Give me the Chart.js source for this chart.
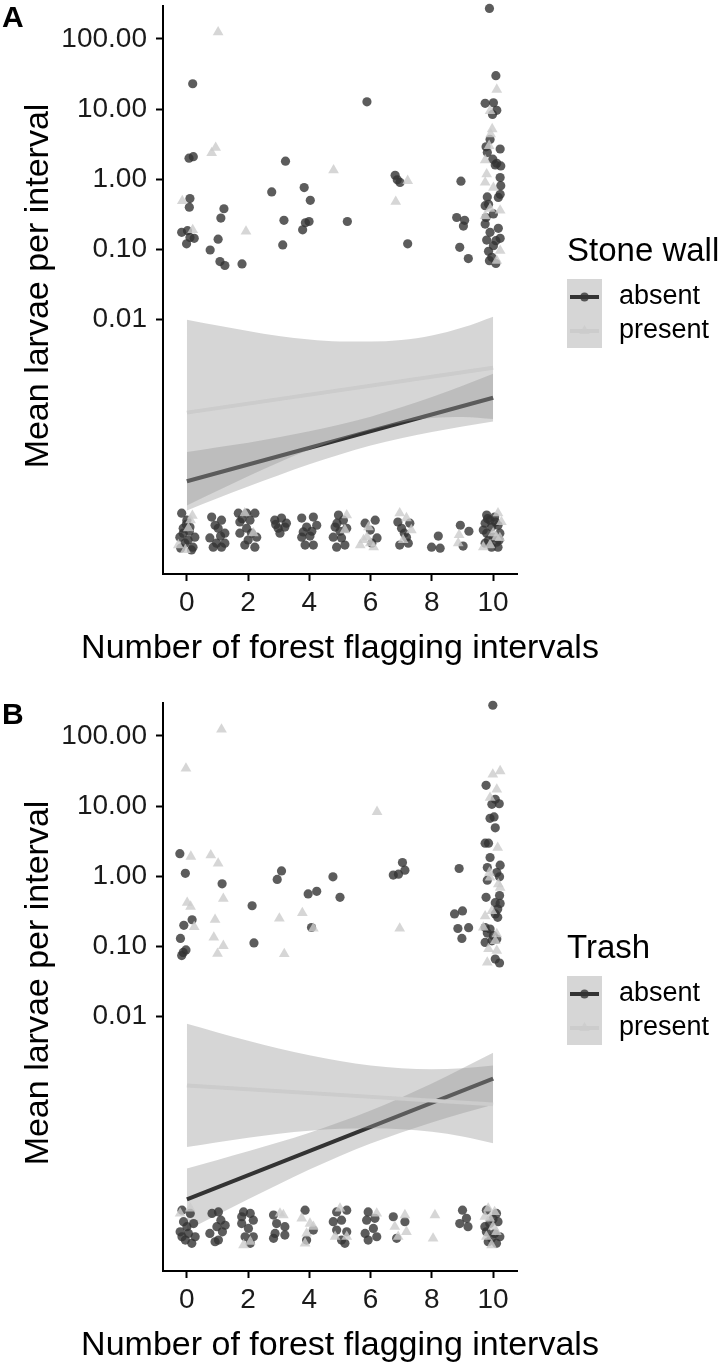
<!DOCTYPE html>
<html>
<head>
<meta charset="utf-8">
<script src="https://cdn.jsdelivr.net/npm/chart.js@4.4.1/dist/chart.umd.min.js"></script>
<style>
  body { margin: 0; background: #fff; }
  .panel { position: absolute; left: 0; }
</style>
</head>
<body>
<div class="panel" style="top:0"><canvas id="chartA" width="724" height="697"></canvas></div>
<div class="panel" style="top:697px"><canvas id="chartB" width="724" height="670"></canvas></div>
<script>
// ---- data ----
const groups = ['absent', 'present'];
const xTicks = [0, 2, 4, 6, 8, 10];
const yTicks = [0.01, 0.1, 1, 10, 100];
const fitX = [0, 1, 2, 3, 4, 5, 6, 7, 8, 9, 10];
const lineX = [0, 10];

// panel A: stone wall
const aAbsentPts = [[0.19,23],[0.07,2.0],[0.21,2.1],[0.10,0.53],[0.08,0.40],[-0.17,0.175],[0.02,0.185],[-0.01,0.12],[0.10,0.148],[0.24,0.144],
  [0.76,0.098],[1.02,0.14],[1.11,0.28],[1.21,0.38],[1.08,0.067],[1.24,0.059],[1.80,0.062],[2.77,0.66],[3.22,1.81],[3.17,0.26],[3.13,0.116],
  [3.83,0.76],[4.03,0.50],[3.87,0.24],[3.99,0.25],[3.78,0.19],[5.24,0.25],[5.88,12.7],[6.80,1.14],[6.87,0.98],[6.96,0.90],[7.21,0.12],
  [8.95,0.94],[8.81,0.285],[9.07,0.26],[9.03,0.215],[8.91,0.107],[9.19,0.074],
  [9.88,272],[10.09,30],[9.74,12.1],[10.01,12.3],[10.12,9.6],[9.98,8.4],[9.90,3.7],[9.77,2.9],[10.23,2.7],[9.81,2.4],
  [9.99,1.93],[10.12,1.69],[10.25,1.55],[10.07,1.6],[10.23,1.06],[10.25,0.81],[10.23,0.61],[10.17,0.55],[9.81,0.56],[9.74,0.42],
  [9.85,0.44],[10.01,0.32],[9.77,0.285],[9.74,0.23],[10.17,0.20],[9.90,0.175],[10.23,0.144],[9.79,0.136],[10.09,0.133],[10.01,0.113],
  [9.85,0.094],[9.96,0.077],[9.88,0.069],[10.09,0.063],
  // zero counts, jittered
  [-0.17,1.74e-5],[0.0,1.38e-5],[-0.12,1.06e-5],[0.1,1.1e-5],[-0.23,7.9e-6],[-0.06,6.5e-6],[0.2,5.7e-6],[0.04,7.2e-6],[0.26,7.9e-6],[-0.12,9.0e-6],[0.15,5.2e-6],[-0.2,5.5e-6],[0.08,9.6e-6],[-0.02,1.2e-5],
  [0.81,1.53e-5],[1.13,1.38e-5],[1.02,1.06e-5],[1.24,9.0e-6],[0.75,7.7e-6],[0.97,6.5e-6],[1.13,5.7e-6],[1.24,6.5e-6],[0.86,5.7e-6],[0.92,1.17e-5],[1.1,8.2e-6],
  [1.68,1.74e-5],[1.95,1.74e-5],[2.22,1.74e-5],[1.73,1.3e-5],[2.06,1.38e-5],[1.95,1.06e-5],[1.73,9.0e-6],[2.11,9.0e-6],[2.28,7.9e-6],[1.89,6.1e-6],[2.22,5.7e-6],[2.0,7.2e-6],[1.8,1.45e-5],
  [2.87,1.38e-5],[3.09,1.48e-5],[3.25,1.25e-5],[2.98,1.06e-5],[3.2,1.1e-5],[3.04,9.0e-6],[2.9,1.2e-5],
  [3.75,1.48e-5],[4.13,1.53e-5],[3.91,1.1e-5],[4.24,1.17e-5],[3.75,7.9e-6],[4.02,8.2e-6],[3.86,6.1e-6],[4.13,6.1e-6],[4.08,9.6e-6],[3.8,9.4e-6],
  [4.95,1.63e-5],[5.11,1.38e-5],[4.84,1.1e-5],[5.22,1.06e-5],[4.78,7.9e-6],[5.05,7.7e-6],[4.89,5.7e-6],[5.16,6.1e-6],[5.0,9.6e-6],[4.9,1.25e-5],
  [5.82,1.25e-5],[6.15,1.38e-5],[5.99,9.98e-6],[6.21,7.7e-6],[6.04,6.5e-6],
  [6.89,1.3e-5],[7.28,1.25e-5],[7.01,1.06e-5],[7.17,7.9e-6],[6.95,6.1e-6],[7.23,6.5e-6],[7.1,9.0e-6],
  [7.99,5.7e-6],[8.21,8.2e-6],[8.27,5.5e-6],
  [8.93,1.17e-5],[9.21,9.6e-6],[9.02,5.9e-6],
  [9.79,1.63e-5],[10.05,1.53e-5],[9.74,1.25e-5],[9.95,1.1e-5],[10.16,1.17e-5],[9.79,9.0e-6],[10.0,7.9e-6],[10.22,9.0e-6],[9.74,6.5e-6],
  [9.95,5.7e-6],[10.16,5.7e-6],[9.85,7.2e-6],[10.11,6.7e-6],[9.9,1.38e-5],[9.68,9.98e-6],[10.08,1.3e-5],[9.82,1.45e-5],[10.2,7.2e-6]];
const aPresentPts = [[1.02,125],[-0.15,0.49],[0.81,2.37],[0.94,2.82],[0.19,0.19],[1.93,0.18],[4.79,1.35],[6.82,0.48],[7.21,0.95],
  [10.12,19],[9.90,9.4],[9.97,5.2],[9.92,4.4],[9.87,3.0],[9.74,1.87],[9.79,1.18],[9.74,0.90],[10.01,0.76],[10.23,0.36],[9.90,0.38],
  [9.74,0.30],[10.23,0.096],[10.12,0.069],
  [0.12,1.38e-5],[0.05,1.06e-5],[-0.28,6.1e-6],[-0.05,5.2e-6],[0.18,1.6e-5],[1.89,1.74e-5],[2.17,9.0e-6],[5.22,1.63e-5],[5.16,9.98e-6],
  [5.93,1.1e-5],[5.77,7.2e-6],[5.88,7.9e-6],[6.1,5.7e-6],[5.66,6.1e-6],[5.99,6.5e-6],[6.95,1.74e-5],[7.17,1.48e-5],[7.33,9.98e-6],[7.06,7.2e-6],
  [8.89,8.5e-6],[8.86,6.5e-6],[10.16,1.74e-5],[10.27,1.3e-5],[10.0,9.0e-6],[10.22,7.7e-6],[9.68,5.7e-6],[10.11,7.9e-6],[9.9,6.1e-6]];
const aAbsentFit = [4.96e-5, 7.69e-4];
const aAbsentHi = [1.29e-4, 1.51e-4, 1.76e-4, 2.10e-4, 2.55e-4, 3.19e-4, 4.13e-4, 5.62e-4, 7.87e-4, 1.14e-3, 1.69e-3];
const aAbsentLo = [1.90e-5, 2.83e-5, 4.17e-5, 6.05e-5, 8.65e-5, 1.19e-4, 1.60e-4, 2.04e-4, 2.50e-4, 2.99e-4, 3.51e-4];
const aPresentFit = [4.71e-4, 2.06e-3];
const aPresentHi = [9.9e-3, 8.2e-3, 6.86e-3, 5.82e-3, 5.20e-3, 4.86e-3, 4.86e-3, 5.11e-3, 5.92e-3, 7.69e-3, 1.10e-2];
const aPresentLo = [2.24e-5, 3.62e-5, 5.82e-5, 9.20e-5, 1.39e-4, 1.99e-4, 2.67e-4, 3.41e-4, 3.95e-4, 4.09e-4, 3.83e-4];

// panel B: trash
const bAbsentPts = [[-0.23,2.1],[-0.05,1.1],[1.15,0.78],[0.17,0.24],[-0.10,0.20],[-0.21,0.13],[-0.03,0.089],[-0.17,0.074],[-0.12,0.082],
  [2.13,0.38],[2.19,0.112],[3.09,1.19],[2.95,0.90],[3.96,0.56],[4.24,0.61],[4.07,0.186],[4.77,0.98],[5.0,0.50],[6.74,1.04],[6.91,1.07],
  [7.04,1.57],[7.12,1.22],[8.89,1.29],[8.74,0.29],[9.0,0.32],[8.85,0.18],[9.2,0.185],[8.98,0.13],
  [9.99,274],[9.77,19.8],[10.07,12.5],[9.96,10.6],[10.20,10.8],[9.90,6.7],[10.03,7.0],[10.07,4.9],[9.74,2.96],[9.85,2.96],
  [9.90,1.85],[9.81,1.33],[10.23,1.44],[10.12,1.13],[10.21,0.98],[9.81,0.88],[9.77,0.50],[10.21,0.53],[10.07,0.42],[10.23,0.41],
  [10.15,0.34],[10.07,0.29],[10.15,0.26],[9.74,0.186],[9.90,0.177],[9.81,0.155],[10.01,0.142],[10.12,0.127],[9.74,0.114],[9.96,0.120],
  [10.07,0.066],[10.21,0.058],
  [-0.16,1.74e-5],[0.11,1.56e-5],[-0.11,1.19e-5],[0.22,1.12e-5],[-0.22,8.55e-6],[0.05,8.11e-6],[0.27,7.26e-6],[-0.05,6.51e-6],[0.16,5.85e-6],[-0.16,7.26e-6],[0,1.01e-5],
  [0.82,1.56e-5],[1.03,1.64e-5],[1.11,1.25e-5],[0.75,8.11e-6],[0.98,1.01e-5],[1.16,8.55e-6],[1.03,6.51e-6],[0.92,6.16e-6],[1.25,1.06e-5],
  [1.85,1.64e-5],[2.07,1.56e-5],[2.17,1.25e-5],[1.79,1.12e-5],[2.01,9.55e-6],[1.9,7.26e-6],[2.17,7.26e-6],[2.07,5.85e-6],[1.79,1.40e-5],
  [2.83,1.48e-5],[2.93,1.12e-5],[2.88,8.11e-6],[3.2,1.01e-5],[3.2,7.67e-6],[2.83,6.89e-6],
  [3.86,1.74e-5],[4.13,9.04e-6],[3.91,6.51e-6],
  [4.89,1.64e-5],[5.22,1.74e-5],[4.78,1.19e-5],[5.05,1.25e-5],[4.89,9.04e-6],[5.22,8.55e-6],[5.05,6.51e-6],[5.16,5.85e-6],
  [5.92,1.64e-5],[5.87,1.25e-5],[6.14,1.33e-5],[5.82,8.11e-6],[6.09,9.55e-6],[6.2,7.26e-6],[5.92,6.51e-6],
  [6.74,1.40e-5],[7.12,1.19e-5],[6.85,6.89e-6],
  [9.0,1.74e-5],[9.13,1.33e-5],[9.18,1.01e-5],[8.91,1.12e-5],
  [9.78,1.74e-5],[10.11,1.56e-5],[9.89,1.12e-5],[10.16,1.19e-5],[9.78,8.55e-6],[10.05,8.11e-6],[10.22,7.26e-6],[9.84,6.16e-6],[10.11,5.85e-6],
  [9.95,6.89e-6],[9.73,1.01e-5],[10.0,1.3e-5]];
const bPresentPts = [[1.13,124],[-0.03,34.5],[0.13,1.91],[0.78,2.0],[1.02,1.52],[0.01,0.42],[0.12,0.37],[1.19,0.48],[0.92,0.24],[0.88,0.134],
  [1.19,0.102],[1.0,0.079],[0.24,0.19],[3.02,0.25],[3.77,0.30],[3.18,0.078],[4.13,0.18],[6.21,8.3],[6.95,0.18],
  [9.99,28.3],[10.23,31.6],[10.12,17.3],[9.90,13.2],[10.15,2.56],[9.88,1.13],[9.90,0.96],[10.17,0.77],[10.23,0.69],[9.74,0.27],
  [9.96,0.32],[10.12,0.15],[9.85,0.092],[10.12,0.087],[9.81,0.059],[9.68,0.186],[10.07,0.12],
  [-0.22,1.56e-5],[0.11,1.84e-5],[1.85,5.53e-6],[2.07,6.16e-6],[3.15,1.48e-5],[3.04,1.56e-5],
  [3.75,1.33e-5],[4.02,1.12e-5],[3.91,8.11e-6],[3.86,5.85e-6],[4.13,1.01e-5],[5.0,1.84e-5],[4.84,7.26e-6],[5.22,7.26e-6],[6.2,1.56e-5],
  [7.12,1.48e-5],[6.79,1.01e-5],[7.17,8.55e-6],[6.9,7.26e-6],[8.1,1.48e-5],[8.04,6.89e-6],
  [9.84,1.84e-5],[10.05,1.64e-5],[9.89,1.33e-5],[10.0,1.01e-5],[9.78,7.26e-6],[10.11,8.55e-6],[9.95,5.53e-6],[9.73,1.40e-5]];
const bAbsentFit = [2.47e-5, 1.30e-3];
const bAbsentHi = [6.82e-5, 9.03e-5, 1.20e-4, 1.61e-4, 2.21e-4, 3.13e-4, 4.57e-4, 7.02e-4, 1.11e-3, 1.83e-3, 3.05e-3];
const bAbsentLo = [8.95e-6, 1.49e-5, 2.48e-5, 4.07e-5, 6.58e-5, 1.03e-4, 1.55e-4, 2.23e-4, 3.10e-4, 4.19e-4, 5.55e-4];
const bPresentFit = [1.04e-3, 5.60e-4];
const bPresentHi = [7.87e-3, 5.94e-3, 4.51e-3, 3.51e-3, 2.81e-3, 2.33e-3, 2.01e-3, 1.84e-3, 1.77e-3, 1.83e-3, 2.01e-3];
const bPresentLo = [1.38e-4, 1.62e-4, 1.88e-4, 2.14e-4, 2.36e-4, 2.51e-4, 2.56e-4, 2.48e-4, 2.28e-4, 1.95e-4, 1.56e-4];

// ---- styling ----
const FONT = "'Liberation Sans', Arial, Helvetica, sans-serif";
const darkPt = 'rgba(51,51,51,0.8)';
const lightPt = 'rgba(204,204,204,0.8)';
const ribbon = 'rgba(153,153,153,0.4)';
Chart.defaults.font.family = FONT;

const toXY = (xs, ys) => xs.map((x, i) => ({ x: x, y: ys[i] }));
const pts = arr => arr.map(p => ({ x: p[0], y: p[1] }));

function band(lo, hi, order) {
  return [
    { data: toXY(fitX, hi), fill: '+1', backgroundColor: ribbon, borderColor: 'rgba(0,0,0,0)',
      borderWidth: 1, pointRadius: 0, cubicInterpolationMode: 'monotone', order: order },
    { data: toXY(fitX, lo), fill: false, borderColor: 'rgba(0,0,0,0)',
      borderWidth: 1, pointRadius: 0, cubicInterpolationMode: 'monotone', order: order }
  ];
}

const decor = {
  id: 'decor',
  afterDraw(chart, args, o) {
    const ctx = chart.ctx;
    ctx.save();
    ctx.fillStyle = '#000';
    // panel letter
    ctx.font = 'bold 30px ' + FONT;
    ctx.textAlign = 'left';
    ctx.textBaseline = 'alphabetic';
    ctx.fillText(o.letter, 2, 27);
    // axis titles
    ctx.font = '34px ' + FONT;
    ctx.textAlign = 'center';
    ctx.textBaseline = 'middle';
    ctx.fillText('Number of forest flagging intervals', 340, 649);
    ctx.save();
    ctx.translate(39, 286);
    ctx.rotate(-Math.PI / 2);
    ctx.fillText('Mean larvae per interval', 0, 0);
    ctx.restore();
    // legend
    ctx.textAlign = 'left';
    ctx.textBaseline = 'alphabetic';
    ctx.font = '33px ' + FONT;
    ctx.fillText(o.title, 567, 261);
    ctx.fillStyle = ribbon;
    ctx.fillRect(567, 279, 35, 69);
    const keys = [[297, '#333333', darkPt, 'circle'], [331, '#cccccc', lightPt, 'triangle']];
    keys.forEach(k => {
      ctx.strokeStyle = k[1];
      ctx.lineWidth = 4;
      ctx.beginPath();
      ctx.moveTo(570, k[0]);
      ctx.lineTo(599, k[0]);
      ctx.stroke();
      ctx.fillStyle = k[2];
      ctx.beginPath();
      if (k[3] === 'circle') {
        ctx.arc(584.5, k[0], 4.5, 0, Math.PI * 2);
      } else {
        ctx.moveTo(584.5, k[0] - 6);
        ctx.lineTo(584.5 + 5.2, k[0] + 3);
        ctx.lineTo(584.5 - 5.2, k[0] + 3);
        ctx.closePath();
      }
      ctx.fill();
    });
    ctx.fillStyle = '#000';
    ctx.font = '27px ' + FONT;
    ctx.textBaseline = 'middle';
    ctx.fillText(groups[0], 619, 297);
    ctx.fillText(groups[1], 619, 331);
    ctx.restore();
  }
};

function makeChart(id, letter, title, absPts, prePts, absFit, absLo, absHi, preFit, preLo, preHi) {
  const canvas = document.getElementById(id);
  const H = canvas.height;
  return new Chart(canvas, {
    type: 'line',
    data: {
      datasets: [
        ...band(absLo, absHi, 6),
        { label: groups[0] + ' fit', data: toXY(lineX, absFit), borderColor: '#333333', borderWidth: 4,
          pointRadius: 0, fill: false, order: 5 },
        ...band(preLo, preHi, 4),
        { label: groups[1] + ' fit', data: toXY(lineX, preFit), borderColor: '#cccccc', borderWidth: 4,
          pointRadius: 0, fill: false, order: 3 },
        { label: groups[0], data: pts(absPts), showLine: false, pointStyle: 'circle', pointRadius: 4.6,
          pointBackgroundColor: darkPt, pointBorderWidth: 0, pointBorderColor: 'rgba(0,0,0,0)', clip: false, order: 2 },
        { label: groups[1], data: pts(prePts), showLine: false, pointStyle: 'triangle', pointRadius: 6.2,
          pointBackgroundColor: lightPt, pointBorderWidth: 0, pointBorderColor: 'rgba(0,0,0,0)', clip: false, order: 1 }
      ]
    },
    options: {
      responsive: false,
      animation: false,
      devicePixelRatio: 1,
      layout: { padding: { left: 0, top: 5, right: 207, bottom: 0 } },
      plugins: {
        legend: { display: false },
        tooltip: { enabled: false },
        decor: { letter: letter, title: title }
      },
      scales: {
        x: {
          type: 'linear', min: -0.78, max: 10.78,
          afterBuildTicks: s => { s.ticks = xTicks.map(v => ({ value: v })); },
          afterFit: s => { s.height = H - 574; s.paddingLeft = 0; s.paddingRight = 0; },
          grid: { drawOnChartArea: false, drawTicks: true, tickLength: 7, tickColor: '#000', tickWidth: 2 },
          border: { display: true, color: '#000', width: 2 },
          ticks: { color: '#1a1a1a', font: { size: 28 }, padding: 5, maxRotation: 0, callback: v => String(v) }
        },
        y: {
          type: 'logarithmic', min: 2.36e-6, max: 293,
          afterBuildTicks: s => { s.ticks = yTicks.map(v => ({ value: v, major: true })); },
          afterFit: s => { s.width = 163; s.paddingTop = 0; s.paddingBottom = 0; },
          grid: { drawOnChartArea: false, drawTicks: true, tickLength: 7, tickColor: '#000', tickWidth: 2 },
          border: { display: true, color: '#000', width: 2 },
          ticks: { color: '#1a1a1a', font: { size: 28 }, padding: 9, callback: v => Number(v).toFixed(2) }
        }
      }
    },
    plugins: [decor]
  });
}

makeChart('chartA', 'A', 'Stone wall', aAbsentPts, aPresentPts, aAbsentFit, aAbsentLo, aAbsentHi, aPresentFit, aPresentLo, aPresentHi);
makeChart('chartB', 'B', 'Trash', bAbsentPts, bPresentPts, bAbsentFit, bAbsentLo, bAbsentHi, bPresentFit, bPresentLo, bPresentHi);
</script>
</body>
</html>
